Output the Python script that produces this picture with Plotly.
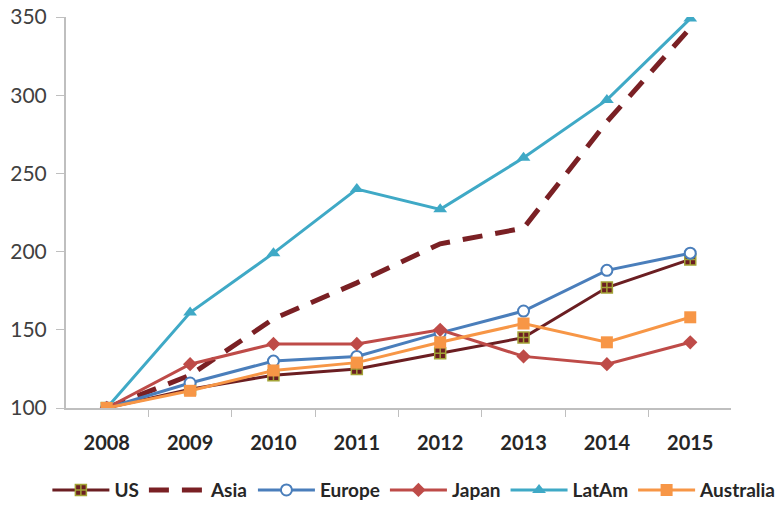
import plotly.graph_objects as go

years = ["2008", "2009", "2010", "2011", "2012", "2013", "2014", "2015"]
us = [100, 112, 121, 125, 135, 145, 177, 195]
asia = [100, 121, 157, 180, 205, 215, 283, 343]
europe = [100, 116, 130, 133, 148, 162, 188, 199]
japan = [100, 128, 141, 141, 150, 133, 128, 142]
latam = [100, 161, 199, 240, 227, 260, 297, 349]
australia = [100, 111, 124, 129, 142, 154, 142, 158]

fig = go.Figure()
fig.add_trace(go.Scatter(x=years, y=us, name="US", mode="lines+markers",
                         line=dict(color="#6B1E22", width=3),
                         marker=dict(symbol="square-cross", size=11, color="#6B1E22",
                                     line=dict(color="#A3A336", width=1.5))))
fig.add_trace(go.Scatter(x=years, y=asia, name="Asia", mode="lines",
                         line=dict(color="#7A2024", width=5, dash="20px,13px")))
fig.add_trace(go.Scatter(x=years, y=europe, name="Europe", mode="lines+markers",
                         line=dict(color="#4A7EBB", width=3),
                         marker=dict(symbol="circle", size=11, color="white",
                                     line=dict(color="#4A7EBB", width=2))))
fig.add_trace(go.Scatter(x=years, y=japan, name="Japan", mode="lines+markers",
                         line=dict(color="#BE4B48", width=3),
                         marker=dict(symbol="diamond", size=11, color="#BE4B48")))
fig.add_trace(go.Scatter(x=years, y=latam, name="LatAm", mode="lines+markers",
                         line=dict(color="#3FA9C6", width=3),
                         marker=dict(symbol="triangle-up", size=12, color="#3FA9C6")))
fig.add_trace(go.Scatter(x=years, y=australia, name="Australia", mode="lines+markers",
                         line=dict(color="#F79646", width=3),
                         marker=dict(symbol="square", size=12, color="#F79646")))

fig.update_layout(
    width=779, height=509,
    margin=dict(l=66, r=48, t=17, b=101, autoexpand=False),
    paper_bgcolor="white", plot_bgcolor="white",
    font=dict(family="Lato, Open Sans, sans-serif", color="#404040"),
    showlegend=True,
    legend=dict(orientation="h", x=-0.028, xanchor="left", y=-0.21, yanchor="middle",
                font=dict(size=19, color="#262626", weight="bold"), itemwidth=57,
                tracegroupgap=0),
    xaxis=dict(type="category", tickson="boundaries", showline=True, linecolor="#BFBFBF",
               linewidth=2, ticks="outside", ticklen=7, tickcolor="#BFBFBF", showgrid=False,
               automargin=False, ticklabelstandoff=16,
               tickfont=dict(size=20, color="#262626", weight="bold"), zeroline=False),
    yaxis=dict(range=[100, 350], tickvals=[100, 150, 200, 250, 300, 350], showline=True,
               linecolor="#BFBFBF", linewidth=2, ticks="outside", ticklen=8,
               tickcolor="#BFBFBF", showgrid=False, zeroline=False, automargin=False,
               ticklabelstandoff=5, ticklabeloverflow="allow",
               tickfont=dict(size=21, color="#404040")),
)

fig.write_html("out.html", config={"displayModeBar": False},
               post_script="document.body.style.margin='0';document.body.style.overflow='hidden';")
